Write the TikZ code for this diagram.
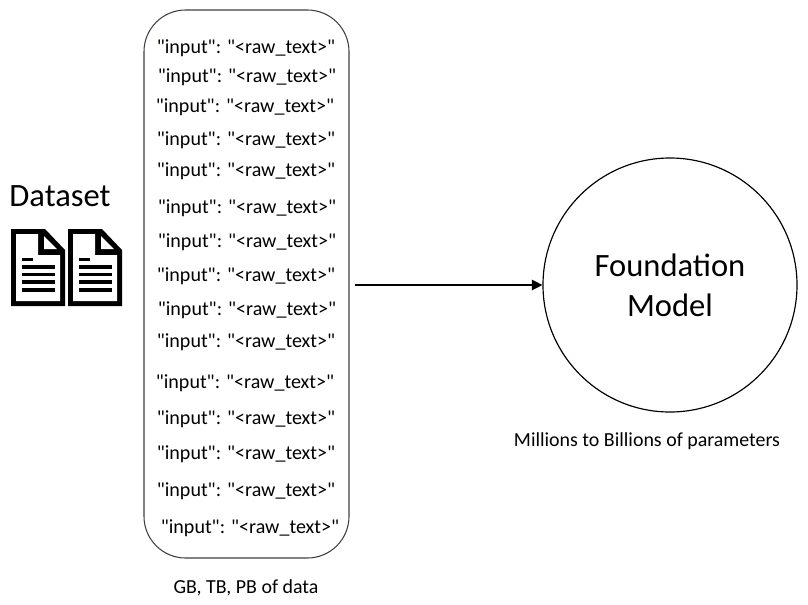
\documentclass[tikz,border=0pt]{standalone}
\usepackage{fontspec}
\setmainfont{Carlito}
\newfontfamily\rawfont{Carlito}
\usetikzlibrary{arrows.meta}
\definecolor{boxline}{HTML}{3A3F47}
\tikzset{
  rawline/.style={font=\rawfont\fontsize{17.1}{20}\selectfont,inner sep=0pt},
  caption/.style={font=\fontsize{17}{20}\selectfont,inner sep=0pt},
  bigtext/.style={font=\fontsize{27.8}{34}\selectfont,align=center,inner sep=0pt},
  flow/.style={-{Triangle[length=9pt,width=9pt]},line width=1.1pt}
}
\begin{document}
\begin{tikzpicture}[x=0.03cm,y=-0.03cm]
  \useasboundingbox (0,0) rectangle (808,604);
  % data box
  \node[draw=boxline,line width=0.9pt,rounded corners=1.25cm,minimum width=6.15cm,minimum height=16.44cm,inner sep=0pt] (databox) at (246.5,284) {};
  \foreach \i/\xx/\yy in {1/246/48,2/247/77,3/245/107,4/246/140,5/246/171,6/247/208,7/247/242,8/246/276,
    9/247/310,10/246/342,11/245/383,12/246/419,13/246/454,14/246/491,15/250/528} {
    \node[rawline] (raw\i) at (\xx,\yy) {"input": "<raw\_text>"};
  }
  \node[caption] (datacap) at (246,588) {GB, TB, PB of data};
  % dataset icons
  \node[bigtext] (dataset) at (60,196) {Dataset};
  \foreach \dx in {0,57} {
    \fill[black] (11+\dx,229) -- (45+\dx,229) -- (65+\dx,250) -- (65+\dx,306) -- (11+\dx,306) -- cycle;
    \fill[white] (16+\dx,234) -- (38+\dx,234) -- (38+\dx,255) -- (60+\dx,255) -- (60+\dx,301) -- (16+\dx,301) -- cycle;
    \fill[white] (44+\dx,236) -- (57+\dx,249) -- (44+\dx,249) -- cycle;
    \fill[black] (22+\dx,257.5) rectangle (33+\dx,261);
    \foreach \yy in {267,274.5,282,290} \fill[black] (22+\dx,\yy-1.8) rectangle (55+\dx,\yy+1.8);
  }
  % model
  \node[draw,circle,line width=1pt,minimum size=7.62cm,inner sep=0pt] (model) at (670,285) {};
  \node[bigtext] (modeltext) at (670,285.5) {Foundation\\Model};
  \node[caption] (modelcap) at (647,441.5) {Millions to Billions of parameters};
  \coordinate (flowstart) at (355,285);
  \draw[flow] (flowstart) -- (model);
\end{tikzpicture}
\end{document}
